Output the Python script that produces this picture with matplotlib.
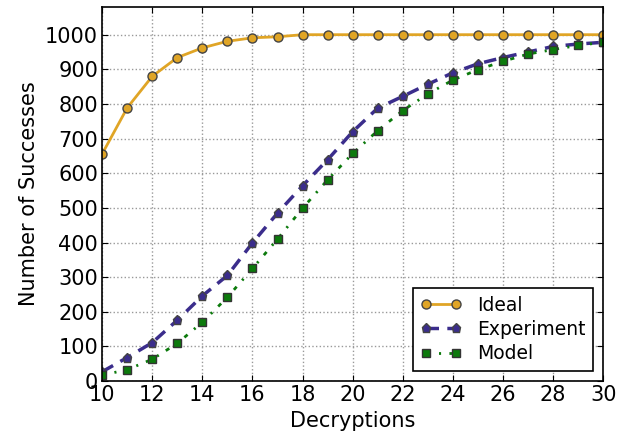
import numpy as np
import matplotlib
matplotlib.use('Agg')
import matplotlib.pyplot as plt

# Dados
decryptions = list(range(10, 31))
ideal = [656, 789, 880, 934, 962, 981, 991, 994, 1000, 1000, 1000,
         1000, 1000, 1000, 1000, 1000, 1000, 1000, 1000, 1000, 1000]
experiment = [27, 68, 111, 176, 246, 305, 399, 485, 564, 639, 720,
              788, 822, 857, 890, 916, 934, 950, 966, 973, 978]
model = [17, 33, 63, 109, 170, 242, 325, 410, 499, 581, 657,
         723, 781, 829, 869, 899, 923, 944, 957, 969, 978]

xticks = list(range(10, 31, 2))
yticks = list(range(0, 1001, 100))

# estilo "classico" dos tracejados
plt.rcParams['lines.scale_dashes'] = False

fig = plt.figure(figsize=(6.27, 4.36), dpi=100)
ax = fig.add_axes([0.163, 0.126, 0.799, 0.858])

ax.plot(decryptions, ideal, '-', color='#e0a526', lw=2, marker='o',
        ms=6.5, mfc='#e0a526', mec='#444444', label='Ideal')
ax.plot(decryptions, experiment, color='#3b2d8c', lw=2.5, dashes=(9, 6),
        marker='p', ms=6.5, mfc='#3b2d8c', mec='#444444', label='Experiment')
ax.plot(decryptions, model, color='#0c7a0c', lw=2, dashes=(3, 6, 1.5, 6),
        marker='s', ms=6, mfc='#0c7a0c', mec='#333333', label='Model')

ax.set_xlim(10, 30)
ax.set_ylim(0, 1080)
ax.set_xticks(xticks)
ax.set_yticks(yticks)
ax.tick_params(direction='in', labelsize=15, length=4, pad=3, top=True, right=True)
ax.grid(True, linestyle=':', color='#999999', lw=1)
for s in ax.spines.values():
    s.set_linewidth(1.2)

ax.set_xlabel('Decryptions', fontsize=15)
ax.set_ylabel('Number of Successes', fontsize=15)

leg = ax.legend(loc='lower right', fontsize=13.5, numpoints=2, fancybox=False,
                framealpha=1, edgecolor='black', borderaxespad=0.55,
                labelspacing=0.28, handlelength=2.2)
leg.get_frame().set_linewidth(1.2)

fig.savefig('out.png', dpi=100)
